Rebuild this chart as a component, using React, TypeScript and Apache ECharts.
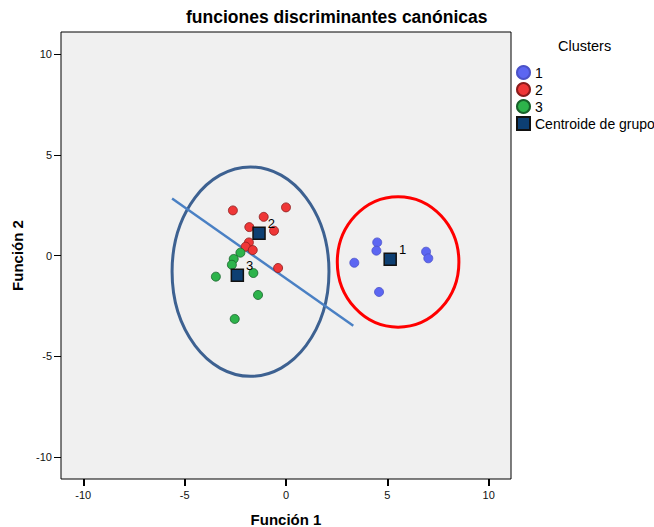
import React, { useEffect, useRef } from "react";
import * as echarts from "echarts";

const tickValues = [-10, -5, 0, 5, 10];
const cluster1 = [[4.5, 0.65], [4.46, 0.24], [3.37, -0.36], [6.91, 0.19], [7.02, -0.14], [4.59, -1.81]];
const cluster2 = [[-2.62, 2.24], [-1.1, 1.92], [0.0, 2.39], [-1.81, 1.41], [-0.59, 1.23], [-1.83, 0.65], [-1.99, 0.44], [-1.64, 0.27], [-0.39, -0.62]];
const cluster3 = [[-2.25, 0.14], [-2.58, -0.17], [-2.67, -0.46], [-1.61, -0.87], [-3.46, -1.05], [-1.38, -1.96], [-2.53, -3.15]];
const centroids = [[5.14, -0.19], [-1.33, 1.1], [-2.4, -0.98]];
const centroidLabels = ["1", "2", "3"];
const ellipses = [[-1.75, -0.8, 3.87, 5.2], [5.53, -0.32, 3.0, 3.24]];
const ellipseColors = ["#3d6191", "#ff0000"];
const dividerLine = [[-5.62, 2.83], [3.32, -3.49]];
const legendNames = ["1", "2", "3", "Centroide de grupo"];

const FONT = 'Arial, "Liberation Sans", sans-serif';

export default function App() {
  const ref = useRef<HTMLDivElement>(null);
  useEffect(() => {
    if (!ref.current) return;
    const chart = echarts.init(ref.current, null, { renderer: "svg" });
    const pointStyle = (c: string, b: string) => ({ color: c, borderColor: b, borderWidth: 0.8, opacity: 1 });
    chart.setOption({
      animation: false,
      textStyle: { fontFamily: FONT },
      grid: {
        left: 61, top: 32, right: 143, bottom: 48, containLabel: false, outerBoundsMode: "none",
        show: true, backgroundColor: "#f0f0f0", borderColor: "#000", borderWidth: 1,
      },
      xAxis: {
        type: "value", min: -11.1, max: 11.1,
        name: "Función 1", nameLocation: "middle", nameGap: 33,
        nameTextStyle: { fontSize: 15, fontWeight: "bold", color: "#000", fontFamily: FONT },
        axisLine: { show: false, onZero: false },
        splitLine: { show: false },
        axisTick: { show: true, length: 7, customValues: tickValues, lineStyle: { color: "#000", width: 2 } },
        axisLabel: { customValues: tickValues, fontSize: 11, color: "#111", margin: 10, fontFamily: FONT },
      },
      yAxis: {
        type: "value", min: -11.1, max: 11.1,
        name: "Función 2", nameLocation: "middle", nameGap: 34,
        nameTextStyle: { fontSize: 15, fontWeight: "bold", color: "#000", fontFamily: FONT },
        axisLine: { show: false, onZero: false },
        splitLine: { show: false },
        axisTick: { show: true, length: 7, customValues: tickValues, lineStyle: { color: "#000", width: 1 } },
        axisLabel: { customValues: tickValues, fontSize: 11, color: "#111", margin: 9, fontFamily: FONT },
      },
      legend: {
        orient: "vertical", left: 516, top: 65, padding: 0, itemWidth: 13, itemHeight: 13, itemGap: 2,
        textStyle: { fontSize: 14, color: "#000", fontFamily: FONT },
        data: [
          { name: "1", icon: "circle" },
          { name: "2", icon: "circle" },
          { name: "3", icon: "circle" },
          { name: "Centroide de grupo", icon: "rect" },
        ],
      },
      graphic: [
        {
          type: "text", left: 186, top: 8,
          style: { text: "funciones discriminantes canónicas", fontSize: 17.5, fontWeight: "bold", fill: "#000", fontFamily: FONT },
        },
        {
          type: "text", left: 558, top: 38,
          style: { text: "Clusters", fontSize: 14.5, fill: "#000", fontFamily: FONT },
        },
      ],
      series: [
        {
          type: "custom", name: "ellipses", silent: true, clip: true,
          encode: { x: 0, y: 1 },
          data: ellipses,
          renderItem: (params: any, api: any) => {
            const c = api.coord([api.value(0), api.value(1)]);
            const s = api.size([api.value(2), api.value(3)]);
            return {
              type: "ellipse",
              shape: { cx: c[0], cy: c[1], rx: s[0], ry: s[1] },
              style: { fill: "none", stroke: ellipseColors[params.dataIndex], lineWidth: 3 },
            };
          },
          z: 1,
        },
        {
          type: "line", name: "divider", data: dividerLine, symbol: "none", silent: true,
          lineStyle: { color: "#4a80c4", width: 2.5 }, z: 2,
        },
        { type: "scatter", name: legendNames[0], data: cluster1, symbol: "circle", symbolSize: 9, itemStyle: pointStyle("#5c66f2", "#4b52c8"), z: 3 },
        { type: "scatter", name: legendNames[1], data: cluster2, symbol: "circle", symbolSize: 9, itemStyle: pointStyle("#ef3737", "#8a1c1c"), z: 3 },
        { type: "scatter", name: legendNames[2], data: cluster3, symbol: "circle", symbolSize: 9, itemStyle: pointStyle("#2db34b", "#17612a"), z: 3 },
        {
          type: "scatter", name: legendNames[3],
          data: centroids.map((p, i) => ({ value: p, label: { formatter: centroidLabels[i] } })),
          symbol: "rect", symbolSize: 12,
          itemStyle: { color: "#0d3f72", borderColor: "#111", borderWidth: 1.5, opacity: 1 },
          label: { show: true, position: "right", distance: 2, offset: [0, -10], fontSize: 13, color: "#000", fontFamily: FONT },
          z: 4,
        },
      ],
    });
    return () => chart.dispose();
  }, []);
  return <div ref={ref} style={{ position: "absolute", left: 0, top: 0, width: 654, height: 527 }} />;
}
